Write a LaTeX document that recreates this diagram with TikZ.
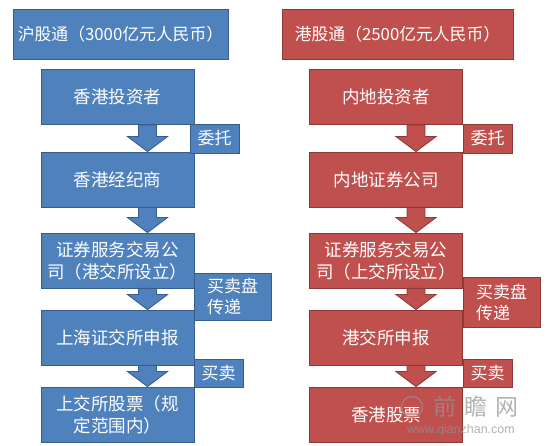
\documentclass[tikz,border=0pt]{standalone}
\usepackage{fontspec}
\setmainfont{Noto Sans CJK SC}
\newfontfamily\wmfont{Liberation Sans}
\usetikzlibrary{calc}
\definecolor{bfill}{HTML}{4F81BD}
\definecolor{bline}{HTML}{385D8A}
\definecolor{rfill}{HTML}{C0504D}
\definecolor{rline}{HTML}{8C3836}
\newcommand{\blockarr}[3]{%
  \draw[#3] let \p1=($(#1.south)+(30,0)$), \p2=($(#2.north)+(30,0)$) in
   (\x1-9pt,\y1) -- (\x1+9pt,\y1) -- (\x1+9pt,\y2+15pt) -- (\x1+20pt,\y2+15pt)
   -- (\x1,\y2) -- (\x1-20pt,\y2+15pt) -- (\x1-9pt,\y2+15pt) -- cycle;}
\tikzset{
  box/.style={draw=#1line, fill=#1fill, line width=0.9pt, text=white,
    font=\fontsize{17.5}{22}\selectfont, align=center, inner sep=0pt},
  big/.style={minimum width=153pt, minimum height=55pt},
  titlebox/.style={box=#1, font=\fontsize{16.8}{22}\selectfont, minimum height=50pt},
  tag/.style={draw=#1line, fill=#1fill, line width=0.9pt, text=white,
    font=\fontsize{17}{21}\selectfont, align=left, inner sep=0pt,
    minimum width=49pt, minimum height=29pt},
  arr/.style={draw=#1line, fill=#1fill, line width=0.9pt},
  wm/.style={text=gray!85, opacity=0.7}
}
\begin{document}
\begin{tikzpicture}[x=1pt,y=-1pt]
\useasboundingbox[fill=white] (0,0) rectangle (550,446);
% ---------- left column ----------
\node[titlebox=b, minimum width=215pt] (t1) at (120.5,34) {沪股通（3000亿元人民币）};
\node[box=b, big] (a1) at (117.5,97) {香港投资者};
\node[box=b, big] (a2) at (117.5,179.5) {香港经纪商};
\node[box=b, big] (a3) at (117.5,260.5) {证券服务交易公\\司（港交所设立）};
\node[box=b, big] (a4) at (117.5,337.5) {上海证交所申报};
\node[box=b, big] (a5) at (117.5,414.5) {上交所股票（规\\定范围内）};
\blockarr{a1}{a2}{arr=b}
\blockarr{a2}{a3}{arr=b}
\blockarr{a3}{a4}{arr=b}
\blockarr{a4}{a5}{arr=b}
\node[tag=b] (w1) at (214.5,138.5) {委托};
\node[tag=b, minimum width=77pt, minimum height=47pt] (m1) at (232.5,296.5) {买卖盘\\传递};
\node[tag=b, minimum height=28pt] (m2) at (218.5,373) {买卖};
% ---------- right column ----------
\node[titlebox=r, minimum width=231pt] (t2) at (397.5,34) {港股通（2500亿元人民币）};
\node[box=r, big] (b1) at (386,97) {内地投资者};
\node[box=r, big] (b2) at (386,179.5) {内地证券公司};
\node[box=r, big] (b3) at (386,260.5) {证券服务交易公\\司（上交所设立）};
\node[box=r, big] (b4) at (386,337.5) {港交所申报};
\node[box=r, big] (b5) at (386,414.5) {香港股票};
\blockarr{b1}{b2}{arr=r}
\blockarr{b2}{b3}{arr=r}
\blockarr{b3}{b4}{arr=r}
\blockarr{b4}{b5}{arr=r}
\node[tag=r] (v1) at (487.5,138.5) {委托};
\node[tag=r, minimum width=77pt, minimum height=50pt] (n1) at (501.5,302) {买卖盘\\传递};
\node[tag=r, minimum height=28pt] (n2) at (487.5,373) {买卖};
% ---------- watermark ----------
\draw[gray!85, opacity=0.7, line width=1.2pt] (412,407) circle (10.5pt);
\node[wm, font=\fontsize{23}{23}\selectfont, inner sep=0pt] (wmt) at (476,407) {前\hspace{8pt}瞻\hspace{8pt}网};
\node[wm, font=\wmfont\fontsize{12.5}{12.5}\selectfont, inner sep=0pt] (wmu) at (461,430) {www.qianzhan.com};
\end{tikzpicture}
\end{document}
